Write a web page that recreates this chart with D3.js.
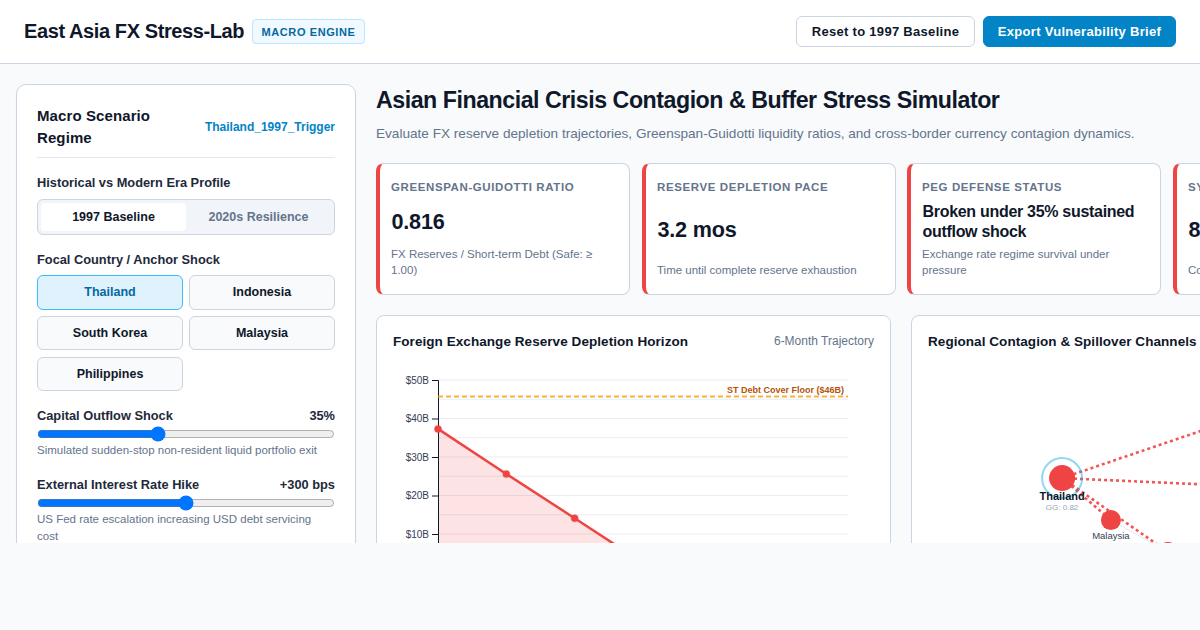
<!DOCTYPE html>
<html>
<head>
<meta charset="utf-8">
<title>East Asia FX Stress-Lab</title>
<script src="https://cdn.jsdelivr.net/npm/d3@7"></script>
<style>
  * { box-sizing: border-box; }
  html, body { margin: 0; height: 630px; overflow: hidden; background: #f8fafc; font-family: "Liberation Sans", Arial, sans-serif; color: #0f172a; }
  #app { position: relative; width: 1200px; height: 543px; overflow: hidden; }
  #app > * { position: absolute; }
  .abs { position: absolute; white-space: nowrap; }
  .header { left: 0; top: 0; width: 1200px; height: 64px; background: #fff; border-bottom: 1px solid #cbd5e1; }
  .brand { left: 24px; top: 19px; font-size: 20px; line-height: 24px; font-weight: 700; letter-spacing: -0.4px; }
  .badge { left: 252px; top: 19px; width: 113px; height: 25px; line-height: 24px; text-align: center; font-size: 11px; font-weight: 700; letter-spacing: 0.6px; color: #0369a1; background: #f0f9ff; border: 1px solid #bae6fd; border-radius: 4px; }
  .btn { top: 16px; height: 31px; line-height: 29px; text-align: center; font-size: 13px; font-weight: 700; letter-spacing: 0.3px; border-radius: 6px; }
  .btn.reset { left: 796px; width: 179px; background: #fff; border: 1px solid #cbd5e1; }
  .btn.export { left: 983px; width: 193px; background: #0284c7; color: #fff; border: 1px solid #0284c7; }
  .card { background: #fff; border: 1px solid #cbd5e1; border-radius: 8px; }
  .side { left: 16px; top: 84px; width: 340px; height: 600px; border-radius: 10px; box-shadow: 0 1px 2px rgba(15,23,42,.04); }
  .regime { left: 37px; top: 105px; width: 140px; font-size: 15px; line-height: 22px; font-weight: 700; letter-spacing: 0.1px; white-space: normal; }
  .regime-tag { right: 865px; top: 119px; font-size: 12px; line-height: 16px; font-weight: 700; color: #0284c7; }
  .rule { left: 37px; top: 157px; width: 298px; height: 1px; background: #e2e8f0; }
  .lbl { font-size: 12.8px; line-height: 16px; font-weight: 700; color: #1e293b; }
  .seg { left: 37px; top: 199px; width: 298px; height: 36px; background: #f1f5f9; border: 1px solid #cbd5e1; border-radius: 6px; }
  .seg-on { left: 41px; top: 203px; width: 145px; height: 28px; line-height: 28px; text-align: center; background: #fff; border-radius: 4px; font-size: 12.5px; font-weight: 700; }
  .seg-off { left: 186px; top: 203px; width: 145px; height: 28px; line-height: 28px; text-align: center; font-size: 12.5px; font-weight: 700; color: #64748b; }
  .country { text-align: center; font-size: 12.5px; font-weight: 700; background: #f8fafc; border: 1px solid #cbd5e1; border-radius: 6px; }
  .country.on { background: #e0f2fe; border-color: #38bdf8; color: #0369a1; }
  .note { font-size: 11.5px; line-height: 17px; color: #64748b; }
  input[type=range] { position: absolute; left: 37px; width: 298px; margin: 0; }
  .h1 { left: 376px; top: 85px; font-size: 23.2px; line-height: 30px; font-weight: 700; letter-spacing: -0.47px; }
  .sub { left: 376px; top: 125px; font-size: 13.6px; line-height: 18px; color: #64748b; }
  .kpi { top: 163px; height: 132px; width: 254px; border-left: 4px solid #ef4444; overflow: hidden; }
  .kpi .k-label { left: 11px; top: 16px; font-size: 11.5px; line-height: 15px; font-weight: 700; letter-spacing: 0.6px; color: #64748b; }
  .kpi .k-value { left: 11.5px; font-size: 21.6px; line-height: 26px; font-weight: 700; letter-spacing: -0.2px; }
  .kpi .k-value.long { top: 38px; width: 232px; font-size: 16px; line-height: 20px; letter-spacing: -0.3px; white-space: normal; }
  .kpi .k-desc { left: 11px; width: 226px; font-size: 11.5px; line-height: 16px; color: #64748b; white-space: normal; }
  .panel { top: 315px; height: 400px; width: 515px; }
  .p-title { top: 333px; font-size: 13.5px; line-height: 17px; font-weight: 700; letter-spacing: 0.06px; }
  .p-note { right: 326px; top: 333px; font-size: 12px; line-height: 16px; color: #64748b; }
  svg { position: absolute; overflow: visible; font-family: "Liberation Sans", Arial, sans-serif; }
</style>
</head>
<body>
<div id="app">
  <div class="header"></div>
  <div class="abs brand">East Asia FX Stress-Lab</div>
  <div class="abs badge">MACRO ENGINE</div>
  <div class="abs btn reset">Reset to 1997 Baseline</div>
  <div class="abs btn export">Export Vulnerability Brief</div>

  <div class="card side"></div>
  <div class="abs regime">Macro Scenario Regime</div>
  <div class="abs regime-tag">Thailand_1997_Trigger</div>
  <div class="rule"></div>
  <div class="abs lbl" style="left:37px;top:175px">Historical vs Modern Era Profile</div>
  <div class="seg"></div>
  <div class="abs seg-on">1997 Baseline</div>
  <div class="abs seg-off">2020s Resilience</div>
  <div class="abs lbl" style="left:37px;top:252px">Focal Country / Anchor Shock</div>

  <div class="abs lbl" style="left:37px;top:408px">Capital Outflow Shock</div>
  <div class="abs lbl" style="right:865px;top:408px">35%</div>
  <input type="range" min="5" max="80" value="35" style="top:426px">
  <div class="abs note" style="left:37px;top:442px">Simulated sudden-stop non-resident liquid portfolio exit</div>
  <div class="abs lbl" style="left:37px;top:477px">External Interest Rate Hike</div>
  <div class="abs lbl" style="right:865px;top:477px">+300 bps</div>
  <input type="range" min="0" max="600" value="300" style="top:495px">
  <div class="abs note" style="left:37px;top:511px;width:298px;white-space:normal">US Fed rate escalation increasing USD debt servicing cost</div>

  <div class="abs h1">Asian Financial Crisis Contagion &amp; Buffer Stress Simulator</div>
  <div class="abs sub">Evaluate FX reserve depletion trajectories, Greenspan-Guidotti liquidity ratios, and cross-border currency contagion dynamics.</div>

  <div class="card panel" style="left:376px"></div>
  <div class="abs p-title" style="left:393px">Foreign Exchange Reserve Depletion Horizon</div>
  <div class="abs p-note">6-Month Trajectory</div>
  <div class="card panel" style="left:911px"></div>
  <div class="abs p-title" style="left:928px">Regional Contagion &amp; Spillover Channels</div>

  <svg id="reserve-chart" width="514" height="181" style="left:377px;top:362px"></svg>
  <svg id="network-chart" width="288" height="181" style="left:912px;top:362px"></svg>
</div>

<script>
/* control panel */
const countries = ['Thailand', 'Indonesia', 'South Korea', 'Malaysia', 'Philippines'];

/* kpi cards */
const kpiLabels = ['Greenspan-Guidotti Ratio', 'Reserve Depletion Pace', 'Peg Defense Status', 'Systemic Contagion Index'];
const kpiValues = ['0.816', '3.2 mos', 'Broken under 35% sustained outflow shock', '8'];
const kpiNotes = [
  'FX Reserves / Short-term Debt (Safe: ≥ 1.00)',
  'Time until complete reserve exhaustion',
  'Exchange rate regime survival under pressure',
  'Composite regional spillover pressure'
];

/* reserve chart */
const months = ['M0', 'M1', 'M2', 'M3', 'M4', 'M5', 'M6'];
const reserves = [37.3, 25.6, 14.1, 2.5, 0, 0, 0];
const debtFloor = 45.7;
const debtFloorLabel = 'ST Debt Cover Floor ($46B)';
const reserveTicks = [0, 10, 20, 30, 40, 50];

/* contagion network, layout units 0-100 */
const nodeNames = ['Thailand', 'Malaysia', '', '', ''];
const nodeRatios = ['GG: 0.82', '', '', '', ''];
const nodeLayoutX = [29.2, 38.7, 49.8, 81.3, 83.3];
const nodeLayoutY = [38.7, 52.7, 63.3, 42.7, 7.2];
const linkSource = [0, 0, 0, 0, 1];
const linkTarget = [1, 2, 3, 4, 2];
const linkStressed = [true, true, true, true, false];

const app = d3.select('#app');

// country buttons, two to a row
const buttonTops = [275, 316, 357];
const buttonHeights = [35, 34, 34];
app.selectAll('.country')
  .data(countries)
  .enter().append('div')
    .attr('class', (d, i) => `abs country${i === 0 ? ' on' : ''}`)
    .style('left', (d, i) => `${i % 2 ? 189 : 37}px`)
    .style('top', (d, i) => `${buttonTops[Math.floor(i / 2)]}px`)
    .style('width', '146px')
    .style('height', (d, i) => `${buttonHeights[Math.floor(i / 2)]}px`)
    .style('line-height', (d, i) => `${buttonHeights[Math.floor(i / 2)] - 2}px`)
    .text(d => d);

// kpi row
const kpiLeft = [376, 642, 907, 1173];
const kpiValueTop = [45, 53, 38, 53];
const kpiNoteTop = [82, 98, 82, 98];

kpiLabels.forEach((label, i) => {
  const card = app.append('div')
    .attr('class', 'card kpi')
    .style('left', `${kpiLeft[i]}px`);
  card.append('div').attr('class', 'abs k-label').text(label.toUpperCase());
  card.append('div')
    .attr('class', `abs k-value${i === 2 ? ' long' : ''}`)
    .style('top', `${kpiValueTop[i]}px`)
    .text(kpiValues[i]);
  card.append('div')
    .attr('class', 'abs k-desc')
    .style('top', `${kpiNoteTop[i]}px`)
    .text(kpiNotes[i]);
});

/* RESERVE DEPLETION CHART */
const margin = { top: 18, left: 61 };
const width = 410;
const height = 192.5;

const g = d3.select('#reserve-chart').append('g')
  .attr('transform', `translate(${margin.left},${margin.top})`);

const x = d3.scalePoint().domain(months).range([0, width]);
const y = d3.scaleLinear().domain([0, 50]).range([height, 0]);

// light grid every $5B, labelled ticks only every $10B
g.append('g')
  .selectAll('line')
  .data(y.ticks(10))
  .enter().append('line')
    .attr('x1', 0)
    .attr('x2', width)
    .attr('y1', d => y(d))
    .attr('y2', d => y(d))
    .attr('stroke', '#e2e8f0')
    .attr('stroke-opacity', 0.8);

g.append('path')
  .datum(reserves)
  .attr('fill', '#ef4444')
  .attr('fill-opacity', 0.15)
  .attr('d', d3.area().x((d, i) => x(months[i])).y0(height).y1(d => y(d)));

const yAxis = g.append('g')
  .call(d3.axisLeft(y).tickValues(reserveTicks.filter(d => d > 0)).tickFormat(d => `$${d}B`));
yAxis.selectAll('text').attr('fill', '#334155');

g.append('line')
  .attr('x1', 0)
  .attr('x2', width)
  .attr('y1', y(debtFloor))
  .attr('y2', y(debtFloor))
  .attr('stroke', '#f59e0b')
  .attr('stroke-width', 2)
  .attr('stroke-opacity', 0.8)
  .attr('stroke-dasharray', '5,3');

g.append('text')
  .attr('x', width - 4)
  .attr('y', y(debtFloor) - 4)
  .attr('text-anchor', 'end')
  .attr('font-size', 9)
  .attr('font-weight', 700)
  .attr('fill', '#b45309')
  .text(debtFloorLabel);

g.append('path')
  .datum(reserves)
  .attr('fill', 'none')
  .attr('stroke', '#ef4444')
  .attr('stroke-width', 2.5)
  .attr('d', d3.line().x((d, i) => x(months[i])).y(d => y(d)));

g.selectAll('.reserve-point')
  .data(reserves)
  .enter().append('circle')
    .attr('class', 'reserve-point')
    .attr('cx', (d, i) => x(months[i]))
    .attr('cy', d => y(d))
    .attr('r', 3.5)
    .attr('fill', '#ef4444')
    .attr('stroke', '#ef4444')
    .attr('stroke-opacity', 0.3)
    .attr('stroke-width', 1.5);

/* CONTAGION NETWORK */
const net = d3.select('#network-chart');
const nx = d3.scaleLinear().domain([0, 100]).range([0, 514]);
const ny = d3.scaleLinear().domain([0, 100]).range([0, 300]);

net.selectAll('.link')
  .data(linkSource)
  .enter().append('line')
    .attr('class', 'link')
    .attr('x1', d => nx(nodeLayoutX[d]))
    .attr('y1', d => ny(nodeLayoutY[d]))
    .attr('x2', (d, i) => nx(nodeLayoutX[linkTarget[i]]))
    .attr('y2', (d, i) => ny(nodeLayoutY[linkTarget[i]]))
    .attr('stroke', (d, i) => linkStressed[i] ? '#ef4444' : '#cbd5e1')
    .attr('stroke-width', (d, i) => linkStressed[i] ? 2.6 : 1)
    .attr('stroke-opacity', (d, i) => linkStressed[i] ? 0.9 : 0.6)
    .attr('stroke-dasharray', (d, i) => linkStressed[i] ? '3,3' : null);

// focal ring
net.append('circle')
  .attr('cx', nx(nodeLayoutX[0]))
  .attr('cy', ny(nodeLayoutY[0]))
  .attr('r', 20)
  .attr('fill', 'none')
  .attr('stroke', '#0ea5e9')
  .attr('stroke-width', 2)
  .attr('stroke-opacity', 0.45);

const node = net.selectAll('.node')
  .data(nodeNames)
  .enter().append('g')
    .attr('class', 'node')
    .attr('transform', (d, i) => `translate(${nx(nodeLayoutX[i])},${ny(nodeLayoutY[i])})`);

node.append('circle')
  .attr('r', (d, i) => i === 0 ? 13 : 10)
  .attr('fill', '#ef4444');

node.filter(d => d).append('text')
  .attr('text-anchor', 'middle')
  .attr('y', (d, i) => i === 0 ? 22 : 19)
  .attr('font-size', (d, i) => i === 0 ? 11 : 9.5)
  .attr('font-weight', (d, i) => i === 0 ? 700 : 400)
  .attr('fill', (d, i) => i === 0 ? '#0f172a' : '#334155')
  .text(d => d);

node.filter((d, i) => nodeRatios[i]).append('text')
  .attr('text-anchor', 'middle')
  .attr('y', 32)
  .attr('font-size', 8)
  .attr('fill', '#94a3b8')
  .text((d, i) => nodeRatios[i]);
</script>
</body>
</html>
